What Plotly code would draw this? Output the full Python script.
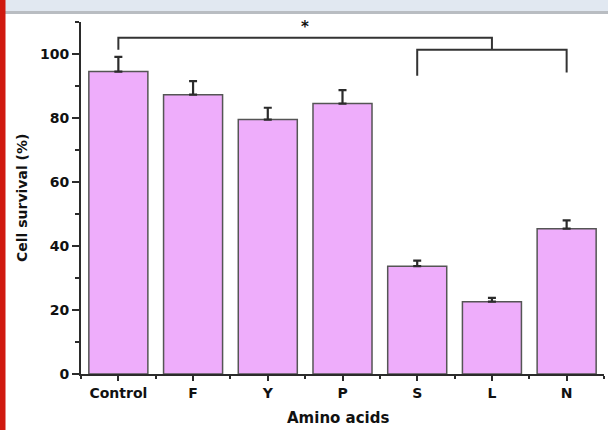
import plotly.graph_objects as go

categories = ["Control", "F", "Y", "P", "S", "L", "N"]
survival = [94.5, 87.3, 79.5, 84.5, 33.7, 22.6, 45.4]
sem = [4.6, 4.2, 3.7, 4.2, 1.7, 1.2, 2.6]

# significance brackets: (x positions, y levels)
bracket1_x = [0, 0, 5, 5]
bracket1_y = [101.3, 105.1, 105.1, 101.3]
bracket2_x = [4, 4, 6, 6]
bracket2_y = [93.2, 101.3, 101.3, 94.2]
star_x, star_y, star_text = 2.5, 108.4, "*"

W, H = 608, 430
ML, MR, MT, MB = 81, 4, 22, 56
PW, PH = W - ML - MR, H - MT - MB


def px(xp):
    return (xp - ML) / PW


def py(yp):
    return (H - MB - yp) / PH


FONT = "DejaVu Sans"
DARK = "#2b2b2b"

xs = list(range(len(categories)))

fig = go.Figure()
fig.add_trace(go.Bar(
    x=xs, y=survival, width=0.79,
    marker=dict(color="#EEADFB", line=dict(color="#555555", width=1.5)),
    error_y=dict(type="data", array=sem, arrayminus=[0] * len(sem), symmetric=False,
                 color=DARK, thickness=2.2, width=4),
    showlegend=False,
))


def path(xv, yv):
    return "M " + " L ".join(f"{a},{b}" for a, b in zip(xv, yv))


shapes = [
    dict(type="path", path=path(bracket1_x, bracket1_y), xref="x", yref="y",
         line=dict(color="#333333", width=2)),
    dict(type="path", path=path(bracket2_x, bracket2_y), xref="x", yref="y",
         line=dict(color="#333333", width=2)),
    # page decoration: top band, its border and red left bar
    dict(type="rect", xref="paper", yref="paper", x0=px(0), x1=px(W), y0=py(11), y1=py(0),
         fillcolor="#E1E8F1", line=dict(width=0), layer="below"),
    dict(type="rect", xref="paper", yref="paper", x0=px(0), x1=px(W), y0=py(14), y1=py(11),
         fillcolor="#B9BDC2", line=dict(width=0), layer="below"),
    dict(type="rect", xref="paper", yref="paper", x0=px(0), x1=px(5.5), y0=py(H), y1=py(0),
         fillcolor="#D0190F", line=dict(width=0), layer="below"),
]

fig.update_layout(
    width=W, height=H,
    margin=dict(l=ML, r=MR, t=MT, b=MB, pad=0),
    paper_bgcolor="white", plot_bgcolor="white",
    shapes=shapes,
    bargap=0.2,
    annotations=[
        dict(x=star_x, y=star_y, xref="x", yref="y", text=star_text, showarrow=False,
             xanchor="center", yanchor="middle",
             font=dict(family=FONT, size=15, color="#111111", weight="bold")),
        dict(x=px(22), y=py(198), xref="paper", yref="paper", text="Cell survival (%)",
             textangle=-90, showarrow=False, xanchor="center", yanchor="middle",
             font=dict(family=FONT, size=14, color="#111111", weight="bold")),
        dict(x=px(338), y=py(418), xref="paper", yref="paper", text="Amino acids",
             showarrow=False, xanchor="center", yanchor="middle",
             font=dict(family=FONT, size=15, color="#111111", weight="bold")),
    ],
    xaxis=dict(
        range=[-0.5, 6.5], tickvals=xs, ticktext=categories,
        showline=True, linecolor=DARK, linewidth=2, mirror=False,
        ticks="outside", ticklen=5, tickwidth=2, tickcolor=DARK,
        minor=dict(tick0=0.5, dtick=1, ticks="outside", ticklen=3, tickwidth=1.5, tickcolor=DARK),
        showgrid=False, zeroline=False,
        tickfont=dict(family=FONT, size=14, color="#111111", weight="bold"),
    ),
    yaxis=dict(
        range=[0, 110], tickvals=[0, 20, 40, 60, 80, 100],
        showline=True, linecolor=DARK, linewidth=2,
        ticks="outside", ticklen=7, tickwidth=2, tickcolor=DARK,
        minor=dict(dtick=10, ticks="outside", ticklen=4, tickwidth=1.5, tickcolor=DARK),
        showgrid=False, zeroline=False,
        tickfont=dict(family=FONT, size=14, color="#111111", weight="bold"),
    ),
)

fig.write_html("out.html", config={"displayModeBar": False},
               post_script="document.body.style.margin='0px';")
